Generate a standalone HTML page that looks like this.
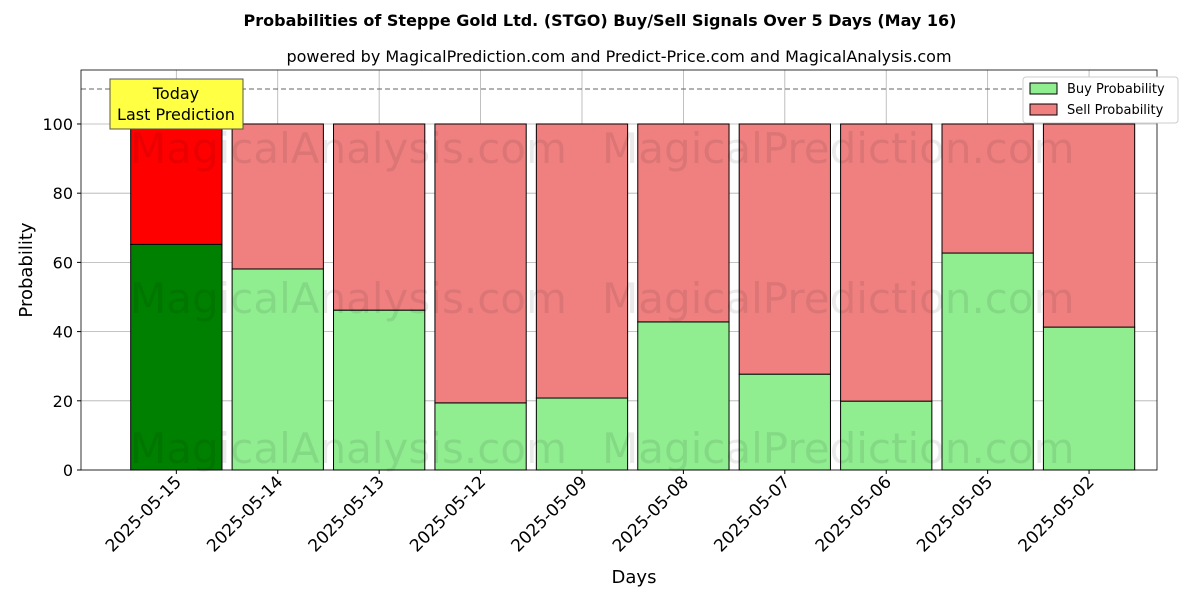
<!DOCTYPE html>
<html><head><meta charset="utf-8"><style>
body{margin:0;background:#fff;font-family:"Liberation Sans","DejaVu Sans",sans-serif;}
svg text{font-family:"DejaVu Sans","Liberation Sans",sans-serif;}
</style></head><body>
<svg id="chart" width="1200" height="600" xmlns="http://www.w3.org/2000/svg">
<rect width="1200" height="600" fill="#fff"/>
<text x="600" y="26" text-anchor="middle" font-size="16" font-weight="bold">Probabilities of Steppe Gold Ltd. (STGO) Buy/Sell Signals Over 5 Days (May 16)</text>
<text x="619" y="62" text-anchor="middle" font-size="16">powered by MagicalPrediction.com and Predict-Price.com and MagicalAnalysis.com</text>
<g id="grid"></g>
<g id="bars"></g>
<g id="wm" font-size="42" fill="#000" opacity="0.08">
<text x="130" y="163">MagicalAnalysis.com</text>
<text x="602" y="163">MagicalPrediction.com</text>
<text x="130" y="313">MagicalAnalysis.com</text>
<text x="602" y="313">MagicalPrediction.com</text>
<text x="130" y="463">MagicalAnalysis.com</text>
<text x="602" y="463">MagicalPrediction.com</text>
</g>
<line x1="81" x2="1157" y1="89" y2="89" stroke="#666" stroke-dasharray="5,3" stroke-width="1"/>
<rect x="81" y="70" width="1076" height="400" fill="none" stroke="#000" stroke-width="0.8"/>
<g id="axes"></g>
<g>
<rect x="110" y="79" width="133" height="50" fill="#ffff44" stroke="#555"/>
<text x="176" y="99" text-anchor="middle" font-size="16">Today</text>
<text x="176" y="120" text-anchor="middle" font-size="16">Last Prediction</text>
</g>
<g>
<rect x="1023" y="77" width="155" height="46" fill="#fff" stroke="#ccc" rx="3"/>
<rect x="1030" y="83" width="27" height="11" fill="#90ee90" stroke="#000"/>
<text x="1067" y="93" font-size="13">Buy Probability</text>
<rect x="1030" y="104" width="27" height="11" fill="#f08080" stroke="#000"/>
<text x="1067" y="114" font-size="13">Sell Probability</text>
</g>
<text x="634" y="583" text-anchor="middle" font-size="18">Days</text>
<text transform="translate(32,270) rotate(-90)" text-anchor="middle" font-size="18">Probability</text>
</svg>
<script>
const categories=["2025-05-15","2025-05-14","2025-05-13","2025-05-12","2025-05-09","2025-05-08","2025-05-07","2025-05-06","2025-05-05","2025-05-02"];
const buyValues=[65.2,58.1,46.2,19.4,20.8,42.8,27.7,19.9,62.7,41.3];
const sellValues=buyValues.map(v=>100-v);
const yTicks=[0,20,40,60,80,100];
const NS="http://www.w3.org/2000/svg";
const L=81,R=1157,T=70,B=470;
const xMin=-0.94,xMax=9.67,yMax=115.6;
const xs=i=>L+(i-xMin)/(xMax-xMin)*(R-L);
const ys=v=>B-v/yMax*(B-T);
const bw=0.9*(R-L)/(xMax-xMin);
function mk(t,a,p){const e=document.createElementNS(NS,t);for(const k in a)e.setAttribute(k,a[k]);p.appendChild(e);return e;}
const grid=document.getElementById('grid'),bars=document.getElementById('bars'),axes=document.getElementById('axes');
yTicks.forEach(v=>{
 const g=mk('line',{x1:L,x2:R,y1:ys(v),y2:ys(v),stroke:'#b0b0b0','stroke-width':0.8},grid);
 
 
 mk('line',{x1:L-4,x2:L,y1:ys(v),y2:ys(v),stroke:'#000'},axes);
 const t=mk('text',{x:L-8,y:ys(v)+6,'text-anchor':'end','font-size':16},axes);t.textContent=v;
 
 
});
categories.forEach((c,i)=>{
 const x=xs(i);
 const g=mk('line',{x1:x,x2:x,y1:T,y2:B,stroke:'#b0b0b0','stroke-width':0.8},grid);
 
 
 const b=mk('rect',{x:x-bw/2,y:ys(buyValues[i]),width:bw,height:ys(0)-ys(buyValues[i]),fill:i===0?'#008000':'#90ee90',stroke:'#000','stroke-width':1},bars);
 
 
 const s=mk('rect',{x:x-bw/2,y:ys(buyValues[i]+sellValues[i]),width:bw,height:ys(buyValues[i])-ys(buyValues[i]+sellValues[i]),fill:i===0?'#ff0000':'#f08080',stroke:'#000','stroke-width':1},bars);
 
 
 mk('line',{x1:x,x2:x,y1:B,y2:B+4,stroke:'#000'},axes);
 const ax=x+6,ay=B+13;
 const t=mk('text',{x:ax,y:ay,'text-anchor':'end','font-size':17,transform:`rotate(-45 ${ax} ${ay})`},axes);t.textContent=c;
 
 
});
</script>
</body></html>
